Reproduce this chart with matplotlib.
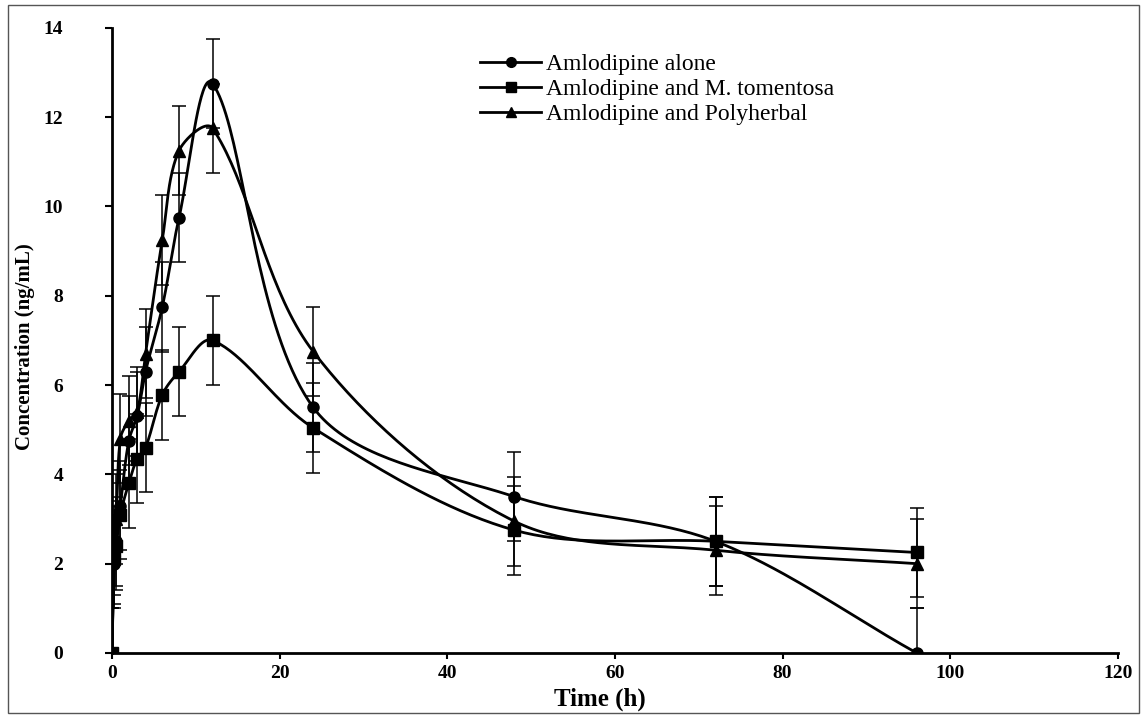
import numpy as np
import matplotlib
matplotlib.use('Agg')
import matplotlib.pyplot as plt
from matplotlib.lines import Line2D
from matplotlib.patches import Rectangle

plt.rcParams['font.family'] = ['Liberation Serif', 'DejaVu Serif']

# sampling times (h)
time_h = [0, 0.25, 0.5, 1, 2, 3, 4, 6, 8, 12, 24, 48, 72, 96]

# mean concentrations (ng/mL)
alone = [0, 2.0, 2.5, 3.3, 4.75, 5.3, 6.3, 7.75, 9.75, 12.75, 5.5, 3.5, 2.5, 0]
tomentosa = [0, 2.1, 2.4, 3.1, 3.8, 4.35, 4.6, 5.78, 6.3, 7.0, 5.04, 2.75, 2.5, 2.25]
polyherbal = [0, 2.3, 3.0, 4.8, 5.2, 5.4, 6.7, 9.25, 11.25, 11.75, 6.75, 2.95, 2.3, 2.0]

err = 1.0  # fixed error bar

labels = ['Amlodipine alone', 'Amlodipine and M. tomentosa', 'Amlodipine and Polyherbal']
markers = ['o', 's', '^']


def smooth(ax, x, y, n=40):
    # smoothed line like a spreadsheet chart, built in screen space
    pts = ax.transData.transform(np.column_stack([x, y]))
    m = len(pts)
    tang = np.zeros_like(pts)
    for i in range(m):
        a = pts[max(i - 1, 0)]
        b = pts[min(i + 1, m - 1)]
        d = np.hypot(*(pts[i] - a)) + np.hypot(*(b - pts[i]))
        tang[i] = (b - a) / d if d > 0 else 0
    t = np.linspace(0, 1, n)[:, None]
    out = []
    for i in range(m - 1):
        p1, p2 = pts[i], pts[i + 1]
        L = np.hypot(*(p2 - p1)) / 3
        c1 = p1 + tang[i] * L
        c2 = p2 - tang[i + 1] * L
        seg = (1 - t) ** 3 * p1 + 3 * (1 - t) ** 2 * t * c1 + 3 * (1 - t) * t ** 2 * c2 + t ** 3 * p2
        out.append(seg)
    out = ax.transData.inverted().transform(np.vstack(out))
    return out[:, 0], out[:, 1]


fig = plt.figure(figsize=(11.43, 7.17), dpi=100)
ax = fig.add_axes([0.098, 0.0893, 0.880, 0.872])
ax.set_xlim(0, 120)
ax.set_ylim(0, 14)

handles = []
for vals, m, lab in zip([alone, tomentosa, polyherbal], markers, labels):
    ax.errorbar(time_h, vals, yerr=err, fmt='none', ecolor='black',
                elinewidth=1.1, capsize=5, capthick=1.1, zorder=2)
    sx, sy = smooth(ax, time_h, vals)
    ax.plot(sx, sy, color='black', lw=2, zorder=3)
    ax.plot(time_h, vals, linestyle='none', marker=m, color='black',
            markersize=8, zorder=4)
    handles.append(Line2D([], [], color='black', lw=2, marker=m, markersize=7, label=lab))

ax.set_xticks(np.arange(0, 121, 20))
ax.set_yticks(np.arange(0, 15, 2))
ax.spines['top'].set_visible(False)
ax.spines['right'].set_visible(False)
for s in ['left', 'bottom']:
    ax.spines[s].set_linewidth(2)
ax.tick_params(axis='x', direction='out', length=4, width=1.5, pad=5, labelsize=14)
ax.tick_params(axis='y', direction='out', length=5, width=1.5, pad=30, labelsize=14)
for t in ax.get_xticklabels() + ax.get_yticklabels():
    t.set_fontweight('bold')

ax.set_xlabel('Time (h)', fontsize=18, fontweight='bold')
ax.xaxis.set_label_coords(0.485, -0.056)
ax.set_ylabel('Concentration (ng/mL)', fontsize=15, fontweight='bold')
ax.yaxis.set_label_coords(-0.077, 0.49)

ax.legend(handles=handles, loc='upper left', bbox_to_anchor=(0.354, 0.978),
          frameon=False, fontsize=17, handlelength=2.6, handletextpad=0.2,
          labelspacing=0.15, borderpad=0)

fig.patches.append(Rectangle((8 / 1143, 4 / 717), 1131 / 1143, 708 / 717,
                             transform=fig.transFigure, fill=False,
                             edgecolor='#555555', lw=1))

fig.savefig('out.png', dpi=100)
